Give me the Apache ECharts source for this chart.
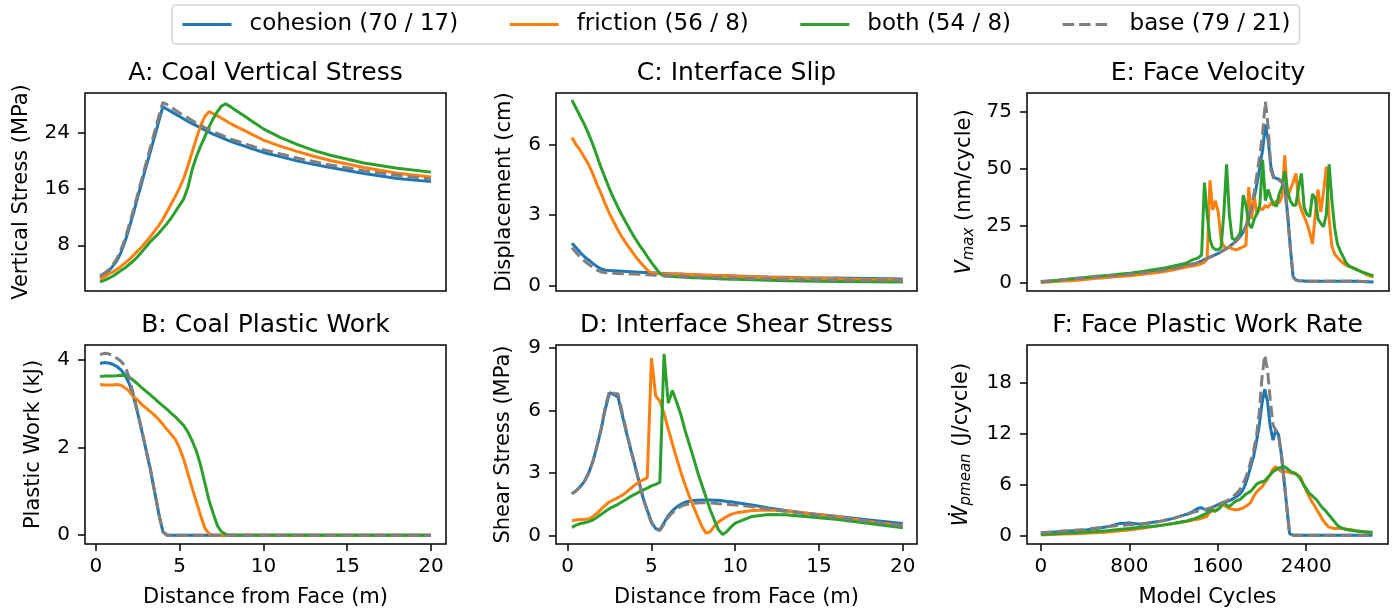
<!DOCTYPE html>
<html>
<head>
<meta charset="utf-8">
<script src="https://cdn.jsdelivr.net/npm/echarts@6/dist/echarts.min.js"></script>
<style>
html, body { margin: 0; padding: 0; background: #fff; }
#chart { width: 1397px; height: 613px; }
</style>
</head>
<body>
<div id="chart"></div>
<script>
// legend entries, same order as the lines are drawn
const names = ['cohesion (70 / 17)', 'friction (56 / 8)', 'both (54 / 8)', 'base (79 / 21)'];
const colors = ['#1f77b4', '#ff7f0e', '#2ca02c', '#7f7f7f'];

// distance from face (m), panels A-D
const dist = [0.25,0.5,0.75,1,1.25,1.5,1.75,2,2.25,2.5,2.75,3,3.25,3.5,3.75,4,4.25,4.5,4.75,5,
  5.25,5.5,5.75,6,6.25,6.5,6.75,7,7.25,7.5,7.75,8,8.25,8.5,8.75,9,9.25,9.5,9.75,10,
  11,12,13,14,16,18,20];
const distTicks = [0, 5, 10, 15, 20];

// model cycles, panels E-F
const cycles = [0,100,200,300,400,500,600,700,800,900,1000,1100,1200,1300,
  1325,1350,1375,1400,1425,1450,1475,1500,
  1525,1550,1575,1600,1625,1650,1675,1700,
  1725,1750,1775,1800,1825,1850,1875,1900,
  1925,1950,1975,2000,2025,2050,2075,2100,
  2125,2150,2175,2200,2225,2250,2275,2300,
  2325,2350,2375,2400,2425,2450,2475,2500,
  2525,2550,2575,2600,2625,2650,2675,2700,
  2725,2750,2775,2800,
  2850,2900,2950,3000];
const cycleTicks = [0, 800, 1600, 2400];

// A: coal vertical stress (MPa)
const aCoh = [3.4,3.8,4.3,5.0,5.8,7.0,8.6,10.6,12.6,14.9,
  17.0,19.2,21.3,23.4,25.6,27.7,27.35,27.0,26.65,26.3,
  25.95,25.6,25.3,25.0,24.7,24.4,24.1,23.8,23.55,23.3,
  23.05,22.8,22.6,22.4,22.2,22.0,21.8,21.6,21.4,21.2,
  20.6,20.0,19.5,19.05,18.2,17.5,17.05];
const aFri = [3.2,3.5,3.9,4.2,4.6,5.0,5.5,6.0,6.6,7.2,
  7.8,8.5,9.2,10.0,10.8,11.7,12.8,13.9,15.0,16.2,
  17.6,19.3,21.3,23.2,25.0,26.3,27.0,26.7,26.4,26.05,
  25.7,25.35,25.05,24.75,24.45,24.15,23.85,23.55,23.25,22.95,
  22.1,21.35,20.65,20.05,19.05,18.25,17.7];
const aBoth = [2.8,3.0,3.3,3.6,4.0,4.4,4.8,5.3,5.8,6.4,
  7.1,7.8,8.5,9.1,9.7,10.4,11.1,11.9,12.8,13.7,
  14.6,16.3,18.8,20.6,22.1,23.4,24.8,26.0,27.0,27.8,
  28.1,27.75,27.35,26.95,26.55,26.15,25.75,25.35,24.95,24.55,
  23.35,22.35,21.5,20.8,19.7,18.95,18.4];
const aBase = [3.7,4.0,4.5,5.2,6.1,7.4,9.0,11.0,13.1,15.3,
  17.5,19.7,21.9,24.1,26.3,28.3,28.0,27.6,27.2,26.8,
  26.45,26.1,25.75,25.4,25.05,24.75,24.45,24.15,23.9,23.65,
  23.4,23.15,22.95,22.75,22.55,22.35,22.15,21.95,21.8,21.6,
  21.0,20.4,19.9,19.4,18.6,17.95,17.4];

// B: coal plastic work (kJ)
const bCoh = [3.92,3.94,3.93,3.90,3.85,3.77,3.65,3.45,3.15,2.78,
  2.36,1.93,1.50,1.00,0.50,0.08,0,0,0,0,
  0,0,0,0,0,0,0,0,0,0,
  0,0,0,0,0,0,0,0,0,0,
  0,0,0,0,0,0,0];
const bFri = [3.44,3.43,3.43,3.43,3.44,3.42,3.36,3.28,3.16,3.08,
  2.98,2.90,2.82,2.74,2.64,2.53,2.41,2.30,2.18,1.98,
  1.72,1.40,1.07,0.76,0.45,0.17,0.03,0,0,0,
  0,0,0,0,0,0,0,0,0,0,
  0,0,0,0,0,0,0];
const bBoth = [3.62,3.63,3.63,3.63,3.64,3.65,3.64,3.60,3.53,3.45,
  3.36,3.28,3.20,3.12,3.03,2.95,2.87,2.78,2.70,2.60,
  2.50,2.35,2.15,1.92,1.60,1.20,0.80,0.50,0.22,0.08,
  0.02,0,0,0,0,0,0,0,0,0,
  0,0,0,0,0,0,0];
const bBase = [4.12,4.15,4.14,4.10,4.04,3.97,3.85,3.58,3.20,2.80,
  2.38,1.95,1.52,1.00,0.50,0.08,0,0,0,0,
  0,0,0,0,0,0,0,0,0,0,
  0,0,0,0,0,0,0,0,0,0,
  0,0,0,0,0,0,0];

// C: interface slip (cm)
const cCoh = [1.80,1.60,1.40,1.22,1.08,0.94,0.80,0.70,0.65,0.63,
  0.62,0.61,0.60,0.59,0.58,0.57,0.56,0.55,0.545,0.54,
  0.53,0.52,0.51,0.50,0.49,0.485,0.48,0.47,0.46,0.455,
  0.45,0.44,0.435,0.43,0.425,0.42,0.415,0.41,0.405,0.40,
  0.38,0.36,0.345,0.33,0.31,0.29,0.27];
const cFri = [6.30,6.00,5.75,5.45,5.15,4.75,4.30,3.90,3.45,3.05,
  2.70,2.35,2.05,1.78,1.52,1.28,1.05,0.85,0.66,0.52,
  0.51,0.505,0.50,0.49,0.485,0.48,0.475,0.465,0.46,0.455,
  0.45,0.44,0.435,0.43,0.425,0.415,0.41,0.405,0.40,0.39,
  0.37,0.35,0.33,0.31,0.28,0.25,0.23];
const cBoth = [7.90,7.55,7.20,6.85,6.45,6.00,5.50,5.00,4.55,4.10,
  3.70,3.32,2.98,2.65,2.33,2.03,1.75,1.50,1.23,0.97,
  0.74,0.50,0.40,0.39,0.38,0.37,0.36,0.35,0.34,0.33,
  0.32,0.31,0.305,0.30,0.29,0.28,0.275,0.27,0.265,0.26,
  0.24,0.22,0.20,0.19,0.17,0.15,0.14];
const cBase = [1.60,1.40,1.20,1.04,0.90,0.77,0.65,0.57,0.54,0.53,
  0.52,0.51,0.50,0.49,0.48,0.48,0.47,0.46,0.45,0.44,
  0.43,0.42,0.415,0.41,0.40,0.39,0.385,0.38,0.37,0.365,
  0.36,0.35,0.345,0.34,0.335,0.33,0.325,0.32,0.315,0.31,
  0.295,0.28,0.265,0.25,0.23,0.21,0.20];

// D: interface shear stress (MPa)
const dCoh = [2.00,2.15,2.35,2.60,3.00,3.55,4.30,5.10,6.10,6.85,
  6.75,6.65,5.80,4.95,4.15,3.40,2.60,1.80,1.20,0.65,
  0.33,0.28,0.62,0.95,1.20,1.37,1.50,1.60,1.65,1.68,
  1.70,1.71,1.71,1.71,1.70,1.69,1.67,1.64,1.62,1.59,
  1.47,1.33,1.20,1.10,0.93,0.75,0.58];
const dFri = [0.72,0.75,0.77,0.78,0.80,0.92,1.08,1.27,1.47,1.62,
  1.72,1.82,1.93,2.08,2.25,2.42,2.57,2.67,2.78,8.50,
  6.70,6.45,5.85,5.10,4.40,3.70,3.05,2.45,1.90,1.40,
  0.92,0.45,0.12,0.18,0.45,0.65,0.80,0.92,1.02,1.08,
  1.20,1.23,1.18,1.10,0.90,0.68,0.47];
const dBoth = [0.40,0.50,0.58,0.62,0.67,0.75,0.88,1.02,1.17,1.30,
  1.40,1.50,1.62,1.74,1.87,1.98,2.08,2.18,2.28,2.38,
  2.46,2.55,8.70,6.35,6.95,6.40,5.80,5.05,4.40,3.75,
  3.05,2.45,1.85,1.25,0.75,0.28,0.05,0.20,0.42,0.60,
  0.92,1.01,1.00,0.93,0.78,0.58,0.38];
const dBase = [2.00,2.15,2.35,2.60,3.00,3.55,4.30,5.15,6.20,6.95,
  6.80,6.80,5.90,5.00,4.20,3.40,2.60,1.80,1.15,0.60,
  0.30,0.25,0.55,0.88,1.10,1.28,1.40,1.48,1.52,1.55,
  1.56,1.57,1.57,1.56,1.55,1.53,1.52,1.50,1.48,1.47,
  1.38,1.28,1.17,1.07,0.88,0.68,0.47];

// E: face velocity Vmax (nm/cycle)
const eCoh = [0.4,0.8,1.2,1.6,2.0,2.5,2.9,3.3,3.7,4.2,4.8,5.5,6.3,7.3,
  7.6,7.9,8.2,8.5,9.0,9.5,10.1,10.7,
  11.2,11.8,12.3,12.9,13.6,14.3,15.0,15.8,
  16.8,17.8,19.0,20.3,22.2,24.6,28.0,31.9,
  37.5,43.7,51.0,58.3,69.5,62.7,51.0,46.3,
  45.8,45.4,44.5,42.2,30.5,15.8,2.6,1.2,
  0.9,0.8,0.7,0.6,0.6,0.6,0.6,0.6,
  0.6,0.6,0.6,0.6,0.6,0.6,0.6,0.6,
  0.6,0.6,0.6,0.6,
  0.6,0.5,0.4,0.3];
const eFri = [0.1,0.4,0.7,1.0,1.4,1.9,2.3,2.7,3.1,3.6,4.1,4.8,5.7,6.8,
  7.0,7.2,7.4,7.7,8.0,8.4,9.0,10.5,
  45.0,32.0,36.0,31.0,19.0,16.0,15.2,15.6,
  15.0,14.5,14.6,15.2,15.8,16.5,42.0,28.0,
  38.0,30.0,33.0,32.0,34.0,33.0,35.0,34.0,
  36.0,35.0,38.0,56.0,37.0,41.0,44.0,48.0,
  36.0,32.0,29.0,26.0,22.0,17.0,30.0,41.0,
  31.0,40.0,51.0,28.0,16.0,12.5,11.0,9.8,
  8.6,7.8,7.2,6.8,
  5.9,4.6,3.2,2.5];
const eBoth = [0.3,0.8,1.3,1.8,2.3,2.8,3.2,3.7,4.2,4.8,5.6,6.3,7.3,8.4,
  8.9,9.6,10.2,10.6,11.1,12.2,44.0,30.0,
  19.0,15.5,14.5,14.6,15.5,30.0,52.0,30.0,
  19.5,18.8,20.0,22.0,38.5,34.0,26.0,24.0,
  28.0,30.5,34.0,54.0,36.0,41.0,37.0,34.5,
  33.5,39.0,42.0,49.0,40.0,36.0,34.0,34.0,
  42.0,48.0,33.0,30.0,29.0,39.0,37.0,28.0,
  26.0,24.6,30.0,52.0,36.0,24.0,17.0,14.0,
  11.5,9.0,7.6,6.8,
  5.6,4.6,3.9,3.0];
const eBase = [0.5,0.9,1.3,1.7,2.1,2.5,2.9,3.3,3.7,4.2,4.8,5.5,6.3,7.3,
  7.6,7.9,8.2,8.5,9.0,9.5,10.1,10.7,
  11.2,11.8,12.3,12.9,13.6,14.3,15.0,15.8,
  16.8,17.8,19.0,20.5,22.5,25.0,28.5,33.0,
  40.0,48.0,56.0,65.6,79.5,68.6,49.5,45.9,
  45.5,45.0,44.0,42.0,29.0,15.0,2.6,1.2,
  0.9,0.8,0.7,0.6,0.6,0.6,0.6,0.6,
  0.6,0.6,0.6,0.6,0.6,0.6,0.6,0.6,
  0.6,0.6,0.6,0.6,
  0.6,0.5,0.4,0.3];

// F: face plastic work rate (J/cycle)
const fCoh = [0.24,0.35,0.45,0.55,0.6,0.8,1.0,1.35,1.45,1.3,1.5,1.7,2.0,2.4,
  2.5,2.65,2.8,3.0,3.2,3.25,3.1,2.95,
  3.1,3.3,3.45,3.6,3.75,3.85,3.95,4.05,
  4.2,4.4,4.6,4.85,5.3,6.0,7.0,8.2,
  9.3,11.0,12.9,15.5,17.2,15.8,12.8,11.2,
  12.4,11.8,9.6,6.5,3.3,0.2,0.05,0.02,
  0.02,0.02,0.02,0.02,0.02,0.02,0.02,0.02,
  0.02,0.02,0.02,0.02,0.02,0.02,0.02,0.02,
  0.02,0.02,0.02,0.02,
  0.02,0.02,0.02,0.02];
const fFri = [0.04,0.1,0.15,0.2,0.24,0.3,0.4,0.5,0.63,0.8,1.0,1.2,1.4,1.6,
  1.65,1.7,1.8,1.85,1.9,2.0,2.1,2.2,
  2.7,2.85,2.95,3.1,3.4,3.6,3.4,3.2,
  3.1,3.0,3.0,3.1,3.2,3.4,3.6,3.9,
  4.6,5.1,5.4,5.7,6.2,6.6,7.2,7.8,
  8.1,7.8,7.5,7.5,7.5,7.4,7.3,7.3,
  7.1,6.8,6.0,5.3,4.6,4.0,3.5,2.9,
  2.4,1.8,1.4,1.0,0.9,0.8,0.8,0.8,
  0.8,0.75,0.7,0.7,
  0.55,0.45,0.35,0.3];
const fBoth = [0.1,0.15,0.25,0.3,0.4,0.45,0.55,0.7,0.8,0.95,1.05,1.2,1.4,1.65,
  1.7,1.8,1.9,2.0,2.15,2.3,2.45,2.6,
  2.8,3.0,2.8,3.0,3.3,3.9,3.6,3.4,
  3.6,3.9,4.1,4.2,4.5,4.8,5.0,5.2,
  5.6,6.0,6.2,6.3,6.4,6.8,7.1,7.5,
  7.7,7.9,8.0,8.1,7.9,7.6,7.4,7.3,
  7.0,6.6,6.0,5.5,5.0,4.7,4.4,4.1,
  3.6,3.2,2.9,2.5,2.1,1.7,1.3,1.0,
  0.85,0.75,0.65,0.6,
  0.5,0.45,0.4,0.35];
const fBase = [0.3,0.4,0.5,0.6,0.7,0.85,1.0,1.15,1.25,1.3,1.45,1.7,2.0,2.4,
  2.5,2.6,2.7,2.8,2.85,2.9,3.0,3.1,
  3.2,3.3,3.4,3.5,3.7,3.9,4.0,4.2,
  4.4,4.7,5.0,5.4,5.9,6.7,7.6,8.8,
  10.0,11.7,14.4,18.5,21.2,19.5,16.0,13.0,
  12.4,11.8,9.6,6.5,3.3,0.2,0.05,0.02,
  0.02,0.02,0.02,0.02,0.02,0.02,0.02,0.02,
  0.02,0.02,0.02,0.02,0.02,0.02,0.02,0.02,
  0.02,0.02,0.02,0.02,
  0.02,0.02,0.02,0.02];

const FONT = 'DejaVu Sans';

const subRich = {
  i: { fontFamily: FONT, fontSize: 21, fontStyle: 'italic', color: '#000', lineHeight: 21, verticalAlign: 'top' },
  s: { fontFamily: FONT, fontSize: 15, fontStyle: 'italic', color: '#000', lineHeight: 15, padding: [8, 0, 0, 0], verticalAlign: 'top' },
  n: { fontFamily: FONT, fontSize: 21, color: '#000', lineHeight: 21, verticalAlign: 'top' },
};

const panels = [
  { title: 'A: Coal Vertical Stress', box: { left: 85, top: 93, width: 361, height: 198 },
    xs: dist, xMin: -0.65, xMax: 20.9, xTicks: distTicks, xName: '',
    ys: [aCoh, aFri, aBoth, aBase], yMin: 1.5, yMax: 29.65, yTicks: [8, 16, 24],
    yName: 'Vertical Stress (MPa)', yGap: 53 },
  { title: 'B: Coal Plastic Work', box: { left: 85, top: 345, width: 361, height: 199 },
    xs: dist, xMin: -0.65, xMax: 20.9, xTicks: distTicks, xName: 'Distance from Face (m)',
    ys: [bCoh, bFri, bBoth, bBase], yMin: -0.2, yMax: 4.34, yTicks: [0, 2, 4],
    yName: 'Plastic Work (kJ)', yGap: 41 },
  { title: 'C: Interface Slip', box: { left: 556, top: 93, width: 361, height: 198 },
    xs: dist, xMin: -0.7, xMax: 20.85, xTicks: distTicks, xName: '',
    ys: [cCoh, cFri, cBoth, cBase], yMin: -0.24, yMax: 8.2, yTicks: [0, 3, 6],
    yName: 'Displacement (cm)', yGap: 41 },
  { title: 'D: Interface Shear Stress', box: { left: 556, top: 345, width: 361, height: 199 },
    xs: dist, xMin: -0.7, xMax: 20.85, xTicks: distTicks, xName: 'Distance from Face (m)',
    ys: [dCoh, dFri, dBoth, dBase], yMin: -0.4, yMax: 9.13, yTicks: [0, 3, 6, 9],
    yName: 'Shear Stress (MPa)', yGap: 42 },
  { title: 'E: Face Velocity', box: { left: 1027, top: 93, width: 362, height: 198 },
    xs: cycles, xMin: -125, xMax: 3140, xTicks: cycleTicks, xName: '',
    ys: [eCoh, eFri, eBoth, eBase], yMin: -3.65, yMax: 83.35, yTicks: [0, 25, 50, 75],
    yName: '{i|V}{s|max}{n| (nm/cycle)}', yGap: 52, rich: true },
  { title: 'F: Face Plastic Work Rate', box: { left: 1027, top: 345, width: 361, height: 199 },
    xs: cycles, xMin: -125, xMax: 3140, xTicks: cycleTicks, xName: 'Model Cycles',
    ys: [fCoh, fFri, fBoth, fBase], yMin: -1.02, yMax: 22.4, yTicks: [0, 6, 12, 18],
    yName: '{i|Ẇ}{s|pmean}{n| (J/cycle)}', yGap: 55, rich: true },
];

const labelStyle = { fontFamily: FONT, fontSize: 20, color: '#000' };
const tickStyle = { inside: false, length: 7, lineStyle: { color: '#000', width: 1.5 } };

const grid = [], xAxis = [], yAxis = [], series = [], graphic = [];

panels.forEach((p, i) => {
  const bottom = p.xName !== '';
  grid.push(Object.assign({ show: true, borderColor: '#000', borderWidth: 1.5, backgroundColor: 'transparent' }, p.box));
  xAxis.push({
    gridIndex: i, type: 'value', min: p.xMin, max: p.xMax, position: 'bottom',
    axisLine: { show: false, onZero: false }, splitLine: { show: false },
    axisTick: Object.assign({ show: bottom, customValues: p.xTicks }, tickStyle),
    axisLabel: Object.assign({ show: bottom, customValues: p.xTicks, margin: 13, formatter: v => String(v) }, labelStyle),
    name: p.xName, nameLocation: 'middle', nameGap: 43,
    nameTextStyle: { fontFamily: FONT, fontSize: 21, color: '#000' },
  });
  yAxis.push({
    gridIndex: i, type: 'value', min: p.yMin, max: p.yMax, position: 'left',
    axisLine: { show: false, onZero: false }, splitLine: { show: false },
    axisTick: Object.assign({ show: true, customValues: p.yTicks }, tickStyle),
    axisLabel: Object.assign({ customValues: p.yTicks, margin: 15, formatter: v => String(v) }, labelStyle),
    name: p.yName, nameLocation: 'middle', nameGap: p.yGap, nameRotate: 90,
    nameTextStyle: p.rich ? { rich: subRich } : { fontFamily: FONT, fontSize: 21, color: '#000' },
  });
  p.ys.forEach((ys, k) => {
    series.push({
      type: 'line', name: names[k], xAxisIndex: i, yAxisIndex: i,
      data: p.xs.map((x, j) => [x, ys[j]]),
      showSymbol: false, symbol: 'none', silent: true,
      lineStyle: { color: colors[k], width: 3, type: k === 3 ? [11.5, 5] : 'solid' },
      itemStyle: { color: colors[k] },
    });
  });
  graphic.push({
    type: 'text', x: p.box.left + p.box.width / 2, y: p.box.top - 20,
    style: { text: p.title, fontFamily: FONT, fontSize: 25, fill: '#000', align: 'center', verticalAlign: 'middle' },
  });
});

const chart = echarts.init(document.getElementById('chart'));
chart.setOption({
  animation: false,
  backgroundColor: '#fff',
  legend: {
    data: names, left: 172, top: 5,
    padding: [8, 9, 8, 9],
    itemWidth: 49, itemHeight: 14, itemGap: 50,
    itemStyle: { opacity: 0 },
    lineStyle: { width: 3 },
    borderColor: '#d3d3d3', borderWidth: 1.5, borderRadius: 4,
    textStyle: { fontFamily: FONT, fontSize: 23, color: '#000', padding: [0, 0, 0, 13] },
    selectedMode: false,
  },
  grid, xAxis, yAxis, series, graphic,
});
</script>
</body>
</html>
